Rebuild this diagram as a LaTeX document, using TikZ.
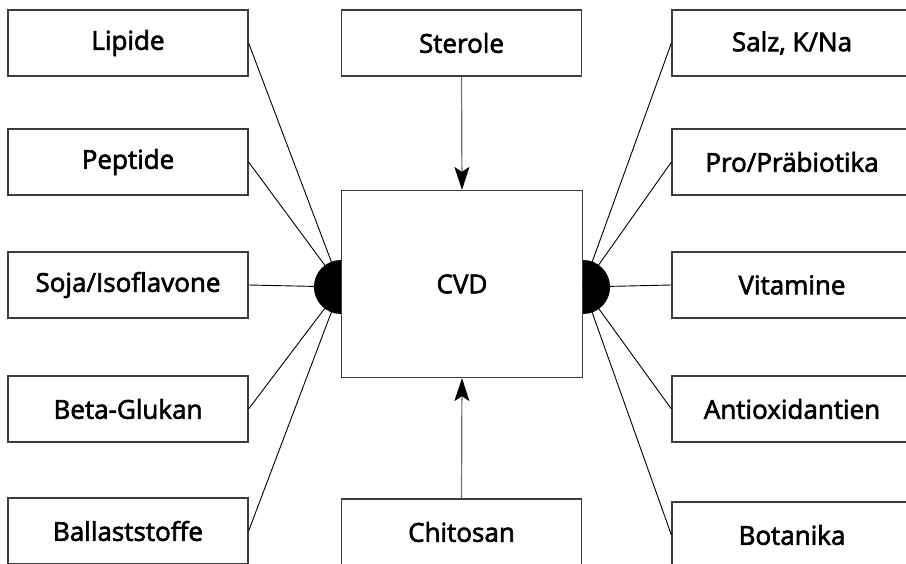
\documentclass[tikz,border=0pt]{standalone}
\usepackage{fontspec}
\setmainfont{Open Sans}[FakeBold=2.4]
\usetikzlibrary{positioning,arrows.meta}
\definecolor{frameGray}{HTML}{3C3C3C}
\definecolor{stemGray}{HTML}{6E6E6E}
\tikzset{
    item/.style={draw=frameGray,fill=white,line width=1.2pt,
        minimum width=240pt,minimum height=66pt,inner sep=0pt,
        font=\fontsize{26}{30}\selectfont},
    core/.style={item,minimum width=241pt,minimum height=187pt},
    spoke/.style={draw=black,line width=0.9pt},
    feed/.style={-{Stealth[length=23pt,width=15pt,inset=5pt,black]},
        draw=stemGray,line width=1.2pt}
}
\begin{document}
\begin{tikzpicture}[x=1pt,y=-1pt]
    \useasboundingbox (0,0) rectangle (906,564);
    % left column
    \node[item] (lipide) at (128,43) {Lipide};
    \node[item] (peptide) at (128,162) {Peptide};
    \node[item] (soja) at (128,285) {Soja/Isoflavone};
    \node[item] (beta) at (128,409) {Beta-Glukan};
    \node[item] (ballast) at (128,531) {Ballaststoffe};
    % middle column
    \node[item] (sterole) at (461.5,43) {Sterole};
    \node[core] (cvd) at (462,284) {CVD};
    \node[item] (chitosan) at (461.5,532) {Chitosan};
    % right column
    \node[item] (salz) at (792,43) {Salz, K/Na};
    \node[item] (probio) at (792,162) {Pro/Präbiotika};
    \node[item] (vitamine) at (792,285) {Vitamine};
    \node[item] (antiox) at (792,409) {Antioxidantien};
    \node[item] (botanik) at (792,535) {Botanika};
    % hubs on the CVD box
    \coordinate (lhub) at ([yshift=-3pt]cvd.west);
    \coordinate (rhub) at ([yshift=-3pt]cvd.east);
    \foreach \n in {lipide,peptide,soja,beta,ballast}
        \draw[spoke] (\n.east) -- (lhub);
    \foreach \n in {salz,probio,vitamine,antiox,botanik}
        \draw[spoke] (\n.west) -- (rhub);
    \fill (lhub) ++(0,27) arc[start angle=90,end angle=270,radius=27] -- cycle;
    \fill (rhub) ++(0,27) arc[start angle=90,end angle=-90,radius=27] -- cycle;
    % arrows into CVD
    \draw[feed] (sterole.south) -- (cvd.north);
    \draw[feed] (chitosan.north) -- (cvd.south);
\end{tikzpicture}
\end{document}
